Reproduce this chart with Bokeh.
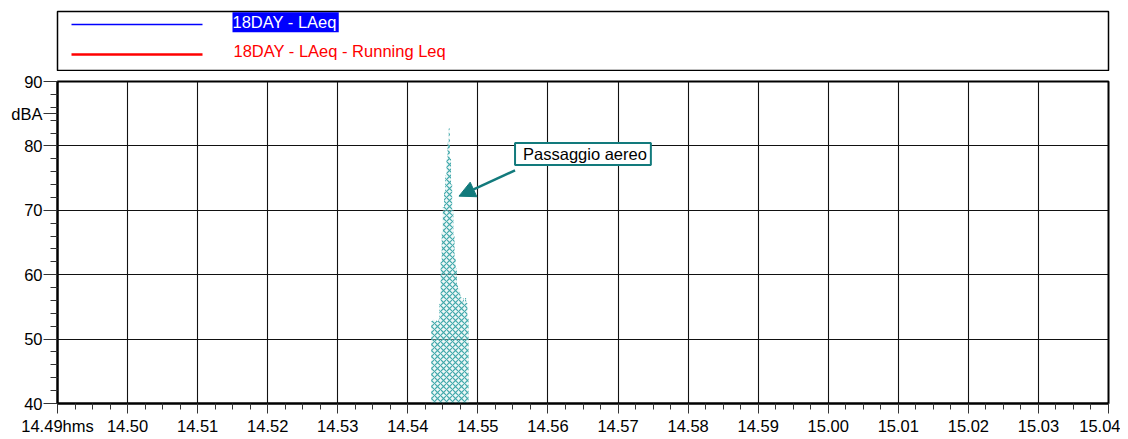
from bokeh.plotting import figure
from bokeh.models import Range1d, SingleIntervalTicker, FixedTicker, Label, Arrow, NormalHead
from bokeh.layouts import column
from bokeh.embed import file_html
from bokeh.resources import INLINE

FONT = "Liberation Sans"

# ---- data ----
series_names = ["18DAY - LAeq", "18DAY - LAeq - Running Leq"]
series_colors = ["#0000ff", "#ff0000"]

laeq_times = ["14:54:20", "14:54:21", "14:54:22", "14:54:23", "14:54:24", "14:54:25",
              "14:54:26", "14:54:27", "14:54:28", "14:54:29", "14:54:30", "14:54:31",
              "14:54:32", "14:54:33", "14:54:34", "14:54:35", "14:54:36", "14:54:37",
              "14:54:38", "14:54:39", "14:54:40", "14:54:41", "14:54:42", "14:54:43",
              "14:54:44", "14:54:45", "14:54:46", "14:54:47", "14:54:48", "14:54:49",
              "14:54:50", "14:54:51"]
laeq_levels = [52.8, 52.9, 53.0, 52.7, 52.9, 52.8, 53.0, 55.5, 62.0, 66.5, 70.5, 73.0,
               75.5, 78.0, 80.5, 82.7, 78.0, 74.0, 70.0, 66.0, 62.5, 61.0, 58.5, 57.8,
               57.2, 56.5, 55.8, 56.3, 55.9, 56.4, 55.6, 53.2]

x_tick_labels = ["14.49hms", "14.50", "14.51", "14.52", "14.53", "14.54", "14.55", "14.56",
                 "14.57", "14.58", "14.59", "15.00", "15.01", "15.02", "15.03", "15.04"]
y_ticks = [40, 50, 60, 70, 80, 90]
y_unit = "dBA"
y_unit_pos = 85
start_time = "14:49:00"
annotation_text = "Passaggio aereo"
TEAL = "#127a7c"


def to_min(t):
    h, m, s = (int(v) for v in t.split(":"))
    return h * 60 + m + s / 60.0


t0 = to_min(start_time)
xs = [to_min(t) - t0 for t in laeq_times]
xs.append(xs[-1] + 1 / 60.0)
ys = laeq_levels + [laeq_levels[-1]]
y_min, y_max = y_ticks[0], y_ticks[-1]

# ---- legend panel (frame = legend box) ----
lg = figure(width=1112, height=63, x_range=Range1d(0, 1051), y_range=Range1d(59, 0),
            output_backend="svg", toolbar_location=None,
            min_border_left=49, min_border_right=12, min_border_top=3, min_border_bottom=1,
            x_axis_type=None, y_axis_type=None)
lg.grid.visible = False
lg.outline_line_color = "black"
lg.outline_line_width = 1.5
for i, (name, color) in enumerate(zip(series_names, series_colors)):
    ly = 13 + 30 * i
    lg.line([14, 145], [ly, ly], line_color=color, line_width=1.5 + i)
    if i == 0:
        lg.add_layout(Label(x=175, y=10.7, text=name, text_font=FONT, text_font_size="16.5px",
                            text_color="white", text_baseline="middle", text_align="left",
                            background_fill_color=color,
                            padding=dict(left=0, right=2, top=1, bottom=1)))
    else:
        lg.add_layout(Label(x=176, y=39.5, text=name, text_font=FONT, text_font_size="16.5px",
                            text_color=color, text_baseline="middle", text_align="left"))

# ---- main chart ----
p = figure(width=1112, height=368, x_range=Range1d(0, 15), y_range=Range1d(y_min, y_max),
           output_backend="svg", toolbar_location=None,
           min_border_left=49, min_border_right=12, min_border_top=10, min_border_bottom=36)
p.outline_line_color = "black"
p.outline_line_width = 2
p.background_fill_color = "white"

p.varea_step(x=xs, y1=[y_min] * len(xs), y2=ys, step_mode="after",
             fill_color="#d2ecec", fill_alpha=0.4,
             hatch_pattern="diagonal_cross", hatch_color="#40a8aa", hatch_scale=6,
             hatch_weight=1.2, hatch_alpha=1.0)

p.xaxis.ticker = SingleIntervalTicker(interval=1, num_minor_ticks=4)
p.xaxis.major_label_overrides = {i: lab for i, lab in enumerate(x_tick_labels)}

minor_y = [v for v in range(y_min, y_max + 1, 2) if v % 10 != 0]
p.yaxis.ticker = FixedTicker(ticks=sorted(y_ticks + [y_unit_pos]), minor_ticks=minor_y)
p.yaxis.major_label_overrides = {y_unit_pos: y_unit}
p.ygrid.ticker = FixedTicker(ticks=y_ticks)
p.xgrid.ticker = SingleIntervalTicker(interval=1)

for ax in (p.xaxis[0], p.yaxis[0]):
    ax.axis_line_color = "black"
    ax.axis_line_width = 2
    ax.major_tick_line_color = "#333333"
    ax.minor_tick_line_color = "#333333"
    ax.major_tick_in = 0
    ax.minor_tick_in = 0
    ax.major_label_text_font = FONT
    ax.major_label_text_font_size = "16.5px"
    ax.major_label_text_color = "black"

p.xaxis.major_tick_out = 10
p.xaxis.minor_tick_out = 6
p.xaxis.major_label_standoff = 3
p.yaxis.major_tick_out = 14
p.yaxis.minor_tick_out = 7
p.yaxis.major_label_standoff = 1

p.grid.grid_line_color = "#111111"
p.grid.grid_line_width = 1.1

p.add_layout(Label(x=6.53, y=78.74, text=annotation_text, text_font=FONT, text_font_size="16.5px",
                   text_align="left", text_baseline="middle", text_color="black",
                   background_fill_color="white", border_line_color=TEAL, border_line_width=2,
                   padding=dict(left=8, right=4, top=2, bottom=2)))
p.add_layout(Arrow(x_start=6.53, y_start=76.2, x_end=5.73, y_end=72.2,
                   line_color=TEAL, line_width=2.5,
                   end=NormalHead(size=16, fill_color=TEAL, line_color=TEAL)))

layout = column(lg, p, margin=(8, 0, 0, 8))
open("out.html", "w").write(file_html(layout, INLINE))
